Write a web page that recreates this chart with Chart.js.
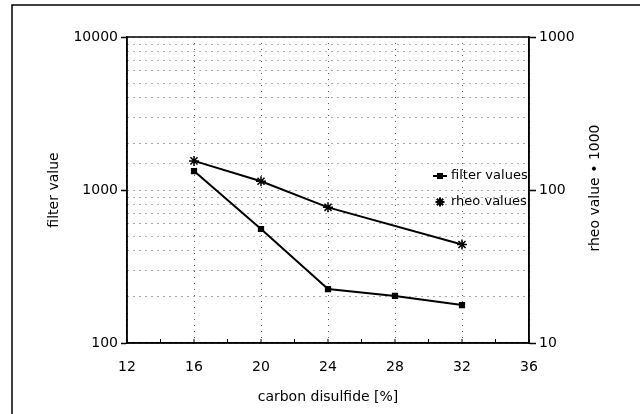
<!DOCTYPE html>
<html>
<head>
<meta charset="utf-8">
<script src="https://cdn.jsdelivr.net/npm/chart.js@4/dist/chart.umd.min.js"></script>
<style>
  html, body { margin: 0; padding: 0; background: #fff; }
  canvas { display: block; }
</style>
</head>
<body>
<canvas id="chart" width="640" height="414"></canvas>
<script>
const filterX = [16, 20, 24, 28, 32];
const filterValues = [1330, 556, 225, 203, 177];
const rheoX = [16, 20, 24, 32];
const rheoValues = [155, 114, 77, 44];
const xTicks = [12, 16, 20, 24, 28, 32, 36];
const leftTicks = [100, 1000, 10000];
const rightTicks = [10, 100, 1000];

Chart.defaults.font.family = 'DejaVu Sans';
Chart.defaults.font.size = 14;
Chart.defaults.color = '#000';

const isMajor = v => Math.abs(Math.log10(v) - Math.round(Math.log10(v))) < 1e-6;

// frame, inner x ticks, axis titles and legend
const extras = {
    id: 'extras',
    afterDraw(chart) {
        const c = chart.ctx;
        const a = chart.chartArea;
        const x = chart.scales.x;
        c.save();
        c.strokeStyle = '#000';
        c.lineWidth = 1.5;
        c.strokeRect(a.left, a.top, a.right - a.left, a.bottom - a.top);
        c.beginPath();
        c.moveTo(12, 414);
        c.lineTo(12, 5);
        c.lineTo(640, 5);
        c.stroke();

        c.lineWidth = 1;
        for (let v = 12; v <= 36; v += 2) {
            const px = x.getPixelForValue(v);
            c.beginPath();
            c.moveTo(px, a.bottom - 4);
            c.lineTo(px, a.bottom + (v % 4 === 0 ? 1 : 0));
            c.stroke();
        }

        c.fillStyle = '#000';
        c.font = '14px "DejaVu Sans"';
        c.textAlign = 'center';
        c.textBaseline = 'middle';
        c.fillText('carbon disulfide [%]', 328, 397);
        c.save();
        c.translate(54, 190);
        c.rotate(-Math.PI / 2);
        c.fillText('filter value', 0, 0);
        c.restore();
        c.save();
        c.translate(595, 188);
        c.rotate(-Math.PI / 2);
        c.fillText('rheo value \u2022 1000', 0, 0);
        c.restore();

        // legend
        c.font = '13px "DejaVu Sans"';
        c.textAlign = 'left';
        c.lineWidth = 2;
        c.beginPath();
        c.moveTo(433, 176);
        c.lineTo(447, 176);
        c.stroke();
        c.fillRect(437, 173, 6, 6);
        c.fillText('filter values', 451, 176);
        c.beginPath();
        for (let k = 0; k < 4; k++) {
            const ang = k * Math.PI / 4;
            c.moveTo(440 - 4.5 * Math.cos(ang), 202 - 4.5 * Math.sin(ang));
            c.lineTo(440 + 4.5 * Math.cos(ang), 202 + 4.5 * Math.sin(ang));
        }
        c.stroke();
        c.fillText('rheo values', 451, 202);
        c.restore();
    }
};

new Chart(document.getElementById('chart'), {
    type: 'line',
    data: {
        datasets: [{
            label: 'filter values',
            data: filterX.map((v, i) => ({ x: v, y: filterValues[i] })),
            yAxisID: 'y',
            borderColor: '#000',
            backgroundColor: '#000',
            borderWidth: 2,
            pointStyle: 'rect',
            pointRadius: 3,
            tension: 0
        }, {
            label: 'rheo values',
            data: rheoX.map((v, i) => ({ x: v, y: rheoValues[i] })),
            yAxisID: 'y2',
            borderColor: '#000',
            backgroundColor: '#000',
            borderWidth: 2,
            pointStyle: 'star',
            pointRadius: 5,
            pointBorderWidth: 1.5,
            tension: 0
        }]
    },
    options: {
        responsive: false,
        animation: false,
        layout: { padding: { top: 37, left: 0, right: 0, bottom: 0 } },
        plugins: { legend: { display: false }, tooltip: { enabled: false } },
        scales: {
            x: {
                type: 'linear',
                min: 12,
                max: 36,
                afterBuildTicks: s => { s.ticks = xTicks.map(v => ({ value: v })); },
                afterFit: s => { s.height = 71; },
                grid: {
                    color: '#555',
                    drawTicks: false,
                    tickLength: 0
                },
                border: { display: true, color: '#000', width: 1.5, dash: [1, 5] },
                ticks: { padding: 16, maxRotation: 0 }
            },
            y: {
                type: 'logarithmic',
                position: 'left',
                min: 100,
                max: 10000,
                afterFit: s => { s.width = 127; },
                grid: {
                    color: '#555',
                    tickColor: ctx => isMajor(ctx.tick.value) ? '#000' : 'rgba(0,0,0,0)',
                    tickLength: 6,
                    tickWidth: 1.5
                },
                border: { display: true, color: '#000', width: 1.5, dash: [1, 5] },
                ticks: {
                    padding: 3,
                    autoSkip: false,
                    callback: v => leftTicks.includes(v) ? String(v) : ''
                }
            },
            y2: {
                type: 'logarithmic',
                position: 'right',
                min: 10,
                max: 1000,
                afterFit: s => { s.width = 111; },
                grid: {
                    drawOnChartArea: false,
                    tickColor: ctx => isMajor(ctx.tick.value) ? '#000' : 'rgba(0,0,0,0)',
                    tickLength: 7,
                    tickWidth: 1.5
                },
                border: { display: true, color: '#000', width: 1.5 },
                ticks: {
                    padding: 3,
                    autoSkip: false,
                    callback: v => rightTicks.includes(v) ? String(v) : ''
                }
            }
        }
    },
    plugins: [extras]
});
</script>
</body>
</html>
